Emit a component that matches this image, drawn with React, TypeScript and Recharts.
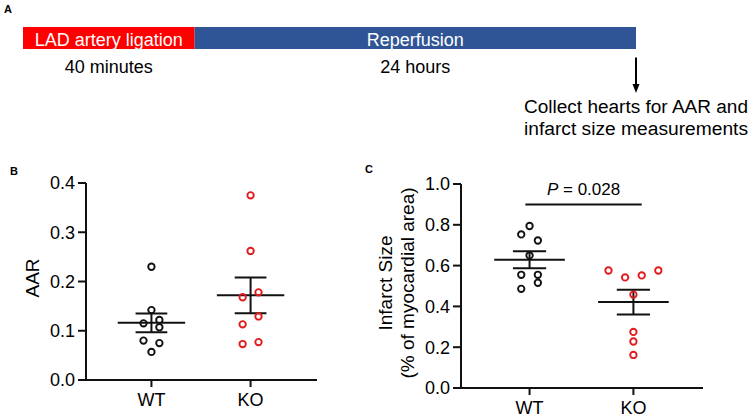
import {
  Bar,
  BarChart,
  LabelList,
  ReferenceLine,
  Scatter,
  ScatterChart,
  XAxis,
  YAxis,
} from "recharts";

// panel A: protocol timeline (segment lengths are schematic, not to scale)
const phases = ["LAD artery ligation", "Reperfusion"];
const phaseDurations = ["40 minutes", "24 hours"];
const phaseSpan = [28, 72];
const endNote = ["Collect hearts for AAR and", "infarct size measurements"];

// panels B and C
const groups = ["WT", "KO"];
const aarTicks = [0, 0.1, 0.2, 0.3, 0.4];
const infarctTicks = [0, 0.2, 0.4, 0.6, 0.8, 1.0];

const wtAar = [0.23, 0.142, 0.115, 0.122, 0.107, 0.08, 0.075, 0.057];
const wtAarCol = [0, 0, -1, 1, 1, -1, 1, 0];
const koAar = [0.375, 0.262, 0.168, 0.178, 0.129, 0.113, 0.073, 0.077];
const koAarCol = [0, 0, -1, 1, 1, -1, -1, 1];

const wtInfarct = [0.794, 0.753, 0.723, 0.65, 0.555, 0.555, 0.516, 0.486];
const wtInfarctCol = [0, -1, 1, 0, -1, 1, 1, -1];
const koInfarct = [0.576, 0.542, 0.552, 0.576, 0.458, 0.275, 0.228, 0.162];
const koInfarctCol = [-3, -1, 1, 3, 0, 0, 0, 0];

const pValue = "0.028";

const FONT = "'Liberation Sans', Arial, sans-serif";
const RED = "#e31a1c";
const INK = "#111";
const COL = 0.08; // one jitter column, in category units
const X_DOMAIN: [number, number] = [0.34, 2.67];

const timelineRow = [
  { name: "protocol", ligation: phaseSpan[0], reperfusion: phaseSpan[1] },
];

function toPoints(values: number[], cols: number[], pos: number) {
  return values.map((v, i) => ({ x: pos + cols[i] * COL, y: v }));
}

function meanSem(values: number[]) {
  const n = values.length;
  const mean = values.reduce((s, v) => s + v, 0) / n;
  const sd = Math.sqrt(values.reduce((s, v) => s + (v - mean) ** 2, 0) / (n - 1));
  return { mean, sem: sd / Math.sqrt(n) };
}

function statLines(values: number[], pos: number, key: string) {
  const { mean, sem } = meanSem(values);
  const seg = (x1: number, y1: number, x2: number, y2: number, k: string) => (
    <ReferenceLine
      key={key + k}
      segment={[
        { x: x1, y: y1 },
        { x: x2, y: y2 },
      ]}
      stroke={INK}
      strokeWidth={2}
      ifOverflow="visible"
    />
  );
  return [
    seg(pos - 0.34, mean, pos + 0.34, mean, "m"),
    seg(pos - 0.16, mean + sem, pos + 0.16, mean + sem, "u"),
    seg(pos - 0.16, mean - sem, pos + 0.16, mean - sem, "l"),
    seg(pos, mean - sem, pos, mean + sem, "v"),
  ];
}

const ring = (color: string) => (p: any) =>
  <circle cx={p.cx} cy={p.cy} r={3.2} fill="none" stroke={color} strokeWidth={1.9} />;

const tickStyle = { fill: "#000", fontSize: 18, fontFamily: FONT };

function phaseLabel(i: number) {
  return (p: any) => {
    const x = Number(p.x);
    const y = Number(p.y);
    const w = Number(p.width);
    const h = Number(p.height);
    const end = x + w;
    return (
      <g fontFamily={FONT}>
        <text x={x + w / 2} y={y + h - 3.5} textAnchor="middle" fill="#fff" fontSize={18}>
          {phases[i]}
        </text>
        <text x={x + w / 2} y={y + h + 23.5} textAnchor="middle" fill="#000" fontSize={18}>
          {phaseDurations[i]}
        </text>
        {i === phases.length - 1 && (
          <g>
            <line x1={end} y1={y + h + 8.5} x2={end} y2={y + h + 38} stroke="#000" strokeWidth={2} />
            <path d={`M${end - 3.5},${y + h + 35} L${end + 3.5},${y + h + 35} L${end},${y + h + 44} Z`} fill="#000" />
            {endNote.map((t, k) => (
              <text
                key={t}
                x={end}
                y={y + h + 63.5 + k * 22}
                textAnchor="middle"
                fill="#000"
                fontSize={18}
                textLength={224}
                lengthAdjust="spacingAndGlyphs"
              >
                {t}
              </text>
            ))}
          </g>
        )}
      </g>
    );
  };
}

export default function App() {
  return (
    <div
      style={{
        position: "absolute",
        left: 0,
        top: 0,
        width: 750,
        height: 420,
        background: "#fff",
        fontFamily: FONT,
      }}
    >
      <div style={{ position: "absolute", left: 0, top: 0 }}>
        <BarChart
          width={750}
          height={140}
          layout="vertical"
          data={timelineRow}
          margin={{ top: 27, right: 114, bottom: 91.5, left: 23 }}
          barCategoryGap={0}
        >
          <XAxis type="number" domain={[0, 100]} hide />
          <YAxis type="category" dataKey="name" hide width={0} />
          <Bar dataKey="ligation" stackId="t" fill="#ff0000" isAnimationActive={false}>
            <LabelList dataKey="ligation" content={phaseLabel(0)} />
          </Bar>
          <Bar dataKey="reperfusion" stackId="t" fill="#2f5597" isAnimationActive={false}>
            <LabelList dataKey="reperfusion" content={phaseLabel(1)} />
          </Bar>
        </BarChart>
      </div>

      {/* B: area at risk */}
      <div style={{ position: "absolute", left: 0, top: 150 }}>
        <ScatterChart width={330} height={270} margin={{ top: 33, right: 13, bottom: 10, left: 14 }}>
          <XAxis
            type="number"
            dataKey="x"
            domain={X_DOMAIN}
            allowDataOverflow
            ticks={[1, 2]}
            tickFormatter={(v) => groups[v - 1]}
            height={30}
            tickSize={7}
            tickMargin={6}
            tick={tickStyle}
            axisLine={{ stroke: INK, strokeWidth: 2 }}
            tickLine={{ stroke: INK, strokeWidth: 2 }}
          />
          <YAxis
            type="number"
            dataKey="y"
            domain={[0, 0.4]}
            allowDataOverflow
            ticks={aarTicks}
            tickFormatter={(v) => v.toFixed(1)}
            width={72}
            tickSize={8}
            tickMargin={3}
            tick={tickStyle}
            axisLine={{ stroke: INK, strokeWidth: 2 }}
            tickLine={{ stroke: INK, strokeWidth: 2 }}
            label={{
              content: (p: any) => {
                const vb = p.viewBox;
                const cx = vb.x + 18;
                const cy = vb.y + vb.height / 2 - 3.5;
                return (
                  <text
                    x={cx}
                    y={cy}
                    transform={`rotate(-90, ${cx}, ${cy})`}
                    textAnchor="middle"
                    dominantBaseline="central"
                    fontSize={19}
                    fontFamily={FONT}
                    fill="#000"
                  >
                    AAR
                  </text>
                );
              },
            }}
          />
          {statLines(wtAar, 1, "wt")}
          {statLines(koAar, 2, "ko")}
          <Scatter data={toPoints(wtAar, wtAarCol, 1)} shape={ring(INK)} isAnimationActive={false} />
          <Scatter data={toPoints(koAar, koAarCol, 2)} shape={ring(RED)} isAnimationActive={false} />
        </ScatterChart>
      </div>

      {/* C: infarct size */}
      <div style={{ position: "absolute", left: 340, top: 150 }}>
        <ScatterChart width={410} height={270} margin={{ top: 34, right: 47, bottom: 2, left: 20 }}>
          <XAxis
            type="number"
            dataKey="x"
            domain={X_DOMAIN}
            allowDataOverflow
            ticks={[1, 2]}
            tickFormatter={(v) => groups[v - 1]}
            height={30}
            tickSize={7}
            tickMargin={6}
            tick={tickStyle}
            axisLine={{ stroke: INK, strokeWidth: 2 }}
            tickLine={{ stroke: INK, strokeWidth: 2 }}
          />
          <YAxis
            type="number"
            dataKey="y"
            domain={[0, 1]}
            allowDataOverflow
            ticks={infarctTicks}
            tickFormatter={(v) => v.toFixed(1)}
            width={101}
            tickSize={8}
            tickMargin={3}
            tick={tickStyle}
            axisLine={{ stroke: INK, strokeWidth: 2 }}
            tickLine={{ stroke: INK, strokeWidth: 2 }}
            label={{
              content: (p: any) => {
                const vb = p.viewBox;
                const cy = vb.y + vb.height / 2 - 3;
                const lines = ["Infarct Size", "(% of myocardial area)"];
                return (
                  <g>
                    {lines.map((t, k) => {
                      const cx = vb.x + 25 + k * 22;
                      return (
                        <text
                          key={t}
                          x={cx}
                          y={cy}
                          transform={`rotate(-90, ${cx}, ${cy})`}
                          textAnchor="middle"
                          dominantBaseline="central"
                          fontSize={19}
                          fontFamily={FONT}
                          fill="#000"
                        >
                          {t}
                        </text>
                      );
                    })}
                  </g>
                );
              },
            }}
          />
          {statLines(wtInfarct, 1, "wt")}
          {statLines(koInfarct, 2, "ko")}
          <ReferenceLine
            segment={[
              { x: 0.96, y: 0.9 },
              { x: 2.08, y: 0.9 },
            ]}
            stroke={INK}
            strokeWidth={2}
            ifOverflow="visible"
            label={{
              content: (p: any) => {
                const vb = p.viewBox;
                return (
                  <text
                    x={vb.x + vb.width / 2}
                    y={vb.y - 9}
                    textAnchor="middle"
                    fontSize={17}
                    fontFamily={FONT}
                    fill="#000"
                  >
                    <tspan fontStyle="italic">P</tspan> = {pValue}
                  </text>
                );
              },
            }}
          />
          <Scatter data={toPoints(wtInfarct, wtInfarctCol, 1)} shape={ring(INK)} isAnimationActive={false} />
          <Scatter data={toPoints(koInfarct, koInfarctCol, 2)} shape={ring(RED)} isAnimationActive={false} />
        </ScatterChart>
      </div>

      <svg
        width={750}
        height={420}
        style={{ position: "absolute", left: 0, top: 0, pointerEvents: "none" }}
      >
        <g fontFamily={FONT} fontWeight="bold" fontSize={11} fill="#000">
          <text x={4} y={13}>A</text>
          <text x={10} y={175}>B</text>
          <text x={365} y={173}>C</text>
        </g>
      </svg>
    </div>
  );
}
